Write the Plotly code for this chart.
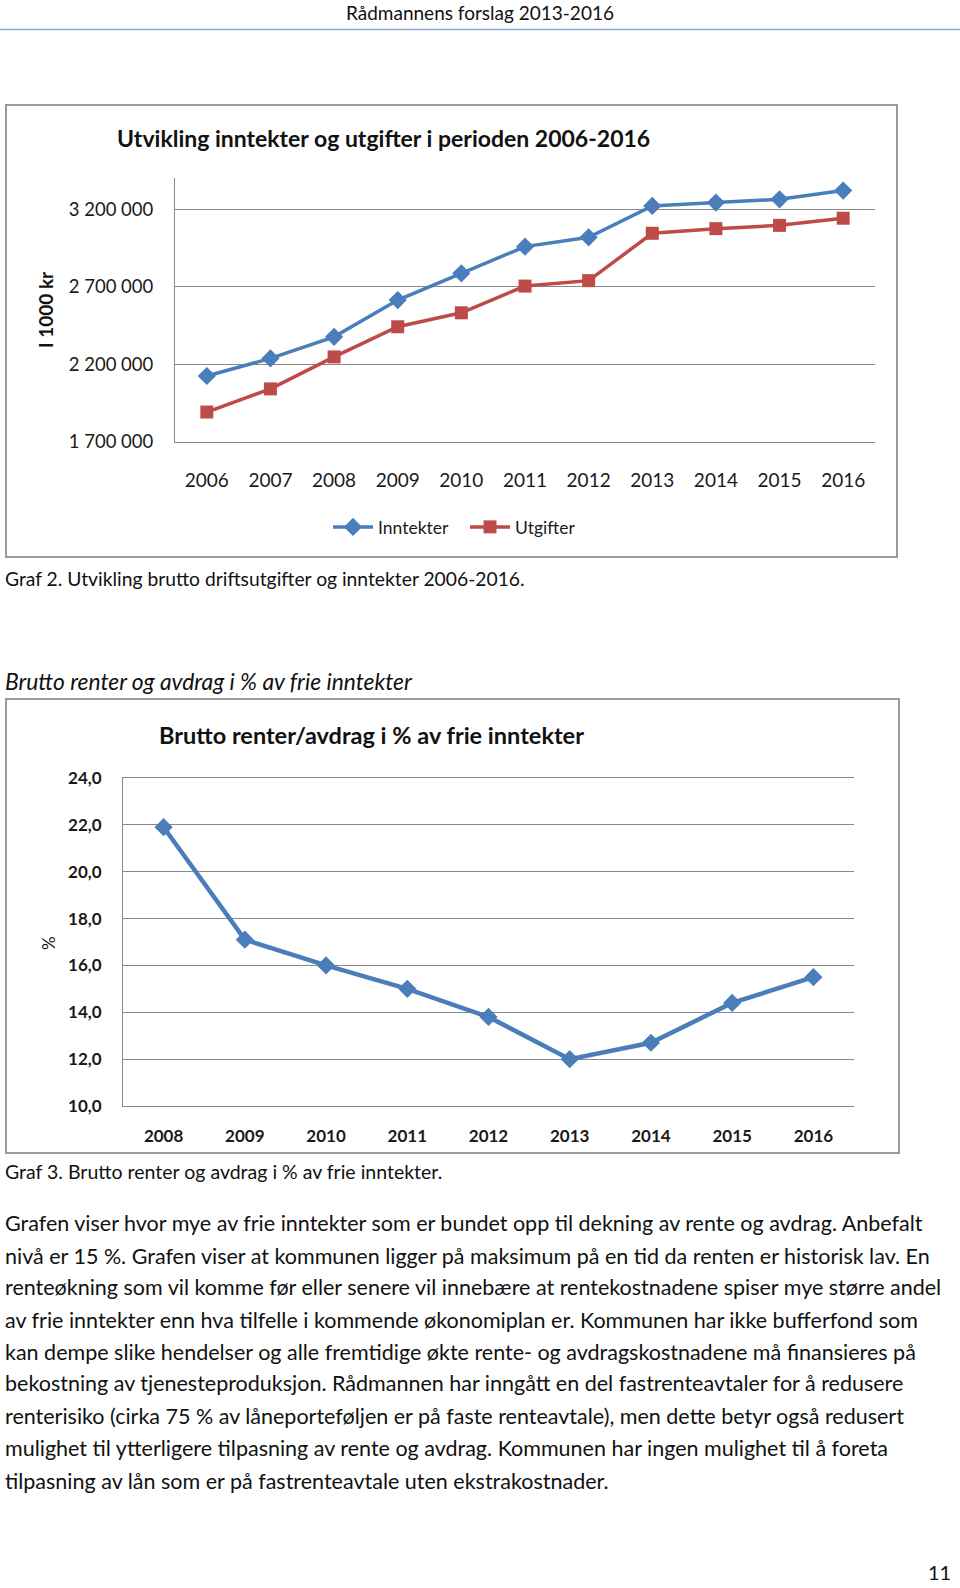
import plotly.graph_objects as go

W, H = 960, 1588

# ---------------- data ----------------
years1 = [2006, 2007, 2008, 2009, 2010, 2011, 2012, 2013, 2014, 2015, 2016]
inntekter = [2125000, 2238000, 2377000, 2614000, 2786000, 2958000, 3018000, 3220000, 3242000, 3263000, 3319000]
utgifter = [1893000, 2042000, 2248000, 2442000, 2532000, 2704000, 2739000, 3044000, 3074000, 3095000, 3141000]
y1_ticks = [1700000, 2200000, 2700000, 3200000]
y1_ticktext = ["1 700 000", "2 200 000", "2 700 000", "3 200 000"]

years2 = [2008, 2009, 2010, 2011, 2012, 2013, 2014, 2015, 2016]
renter_pct = [21.9, 17.1, 16.0, 15.0, 13.8, 12.0, 12.7, 14.4, 15.5]
y2_ticks = [10, 12, 14, 16, 18, 20, 22, 24]
y2_ticktext = ["10,0", "12,0", "14,0", "16,0", "18,0", "20,0", "22,0", "24,0"]

paragraph = [
    "Grafen viser hvor mye av frie inntekter som er bundet opp til dekning av rente og avdrag. Anbefalt",
    "nivå er 15 %. Grafen viser at kommunen ligger på maksimum på en tid da renten er historisk lav. En",
    "renteøkning som vil komme før eller senere vil innebære at rentekostnadene spiser mye større andel",
    "av frie inntekter enn hva tilfelle i kommende økonomiplan er. Kommunen har ikke bufferfond som",
    "kan dempe slike hendelser og alle fremtidige økte rente- og avdragskostnadene må finansieres på",
    "bekostning av tjenesteproduksjon. Rådmannen har inngått en del fastrenteavtaler for å redusere",
    "renterisiko (cirka 75 % av låneporteføljen er på faste renteavtale), men dette betyr også redusert",
    "mulighet til ytterligere tilpasning av rente og avdrag. Kommunen har ingen mulighet til å foreta",
    "tilpasning av lån som er på fastrenteavtale uten ekstrakostnader.",
]

FONT = "Lato, 'Open Sans', sans-serif"
BLUE = "#4a7ebb"
RED = "#be4b48"
GRID = "#8a8a8a"


def px(x):
    return x / W


def py(y):
    return 1 - y / H


fig = go.Figure()

fig.add_trace(go.Scatter(
    x=years1, y=inntekter, name="Inntekter", mode="lines+markers",
    line=dict(color=BLUE, width=3.5),
    marker=dict(symbol="diamond", size=14, color=BLUE),
    xaxis="x", yaxis="y", legend="legend",
))
fig.add_trace(go.Scatter(
    x=years1, y=utgifter, name="Utgifter", mode="lines+markers",
    line=dict(color=RED, width=3.5),
    marker=dict(symbol="square", size=13, color=RED),
    xaxis="x", yaxis="y", legend="legend2",
))
fig.add_trace(go.Scatter(
    x=years2, y=renter_pct, name="%", mode="lines+markers", showlegend=False,
    line=dict(color=BLUE, width=4.5),
    marker=dict(symbol="diamond", size=14, color=BLUE),
    xaxis="x2", yaxis="y2",
))

tickfont1 = dict(family=FONT, size=19, color="#1a1a1a")
tickfont1y = dict(family=FONT, size=18.5, color="#1a1a1a")
tickfont2 = dict(family=FONT, size=17, color="#1a1a1a", weight="bold")
legfont = dict(family=FONT, size=17.5, color="#1a1a1a")

fig.update_layout(
    width=W, height=H,
    margin=dict(l=0, r=0, t=0, b=0, autoexpand=False),
    paper_bgcolor="white", plot_bgcolor="white",
    showlegend=True,
    legend=dict(
        orientation="h", x=px(328), y=py(527), xanchor="left", yanchor="middle",
        font=legfont, bgcolor="rgba(0,0,0,0)", itemwidth=40,
    ),
    legend2=dict(
        orientation="h", x=px(465), y=py(527), xanchor="left", yanchor="middle",
        font=legfont, bgcolor="rgba(0,0,0,0)", itemwidth=40,
    ),
    xaxis=dict(
        domain=[px(175), px(875)], anchor="y", automargin=False,
        range=[2005.5, 2016.5], tickvals=years1, ticktext=[str(v) for v in years1],
        showgrid=False, zeroline=False,
        showline=True, linecolor=GRID, linewidth=1,
        ticks="outside", ticklen=21, tickcolor="rgba(0,0,0,0)",
        tickfont=tickfont1,
    ),
    yaxis=dict(
        domain=[py(442), py(178)], anchor="x", automargin=False,
        range=[1700000, 3400000], tickvals=y1_ticks, ticktext=y1_ticktext,
        showgrid=True, gridcolor=GRID, gridwidth=1, zeroline=False,
        showline=True, linecolor=GRID, linewidth=1,
        ticks="outside", ticklen=17, tickcolor="rgba(0,0,0,0)",
        tickfont=tickfont1y,
    ),
    xaxis2=dict(
        domain=[px(123), px(854)], anchor="y2", automargin=False,
        range=[2007.5, 2016.5], tickvals=years2, ticktext=[str(v) for v in years2],
        showgrid=False, zeroline=False,
        showline=True, linecolor=GRID, linewidth=1, mirror=True,
        ticks="outside", ticklen=15, tickcolor="rgba(0,0,0,0)",
        tickfont=tickfont2,
    ),
    yaxis2=dict(
        domain=[py(1106), py(778)], anchor="x2", automargin=False,
        range=[10, 24], tickvals=y2_ticks, ticktext=y2_ticktext,
        showgrid=True, gridcolor=GRID, gridwidth=1, zeroline=False,
        showline=True, linecolor=GRID, linewidth=1,
        ticks="outside", ticklen=17, tickcolor="rgba(0,0,0,0)",
        tickfont=tickfont2,
    ),
)

shapes = [
    # header rule
    dict(type="line", xref="paper", yref="paper", x0=0, x1=1, y0=py(29.5), y1=py(29.5),
         line=dict(color="#8eaad0", width=1.5)),
    # chart frames
    dict(type="rect", xref="paper", yref="paper", x0=px(6), x1=px(897), y0=py(105), y1=py(557),
         line=dict(color="#9a9a9a", width=2), fillcolor="rgba(0,0,0,0)", layer="below"),
    dict(type="rect", xref="paper", yref="paper", x0=px(6), x1=px(899), y0=py(699), y1=py(1153),
         line=dict(color="#9a9a9a", width=2), fillcolor="rgba(0,0,0,0)", layer="below"),
]

ann = []


def text(x, y, s, size, xanchor="left", bold=False, italic=False, angle=0, color="#111111"):
    if bold:
        s = "<b>" + s + "</b>"
    if italic:
        s = "<i>" + s + "</i>"
    ann.append(dict(
        xref="paper", yref="paper", x=px(x), y=py(y), text=s, showarrow=False,
        xanchor=xanchor, yanchor="middle", textangle=angle,
        font=dict(family=FONT, size=size, color=color),
    ))


text(480, 13, "Rådmannens forslag 2013-2016", 19, xanchor="center")
text(383, 138, "Utvikling inntekter og utgifter i perioden 2006-2016", 23, xanchor="center", bold=True)
text(45, 310, "I 1000 kr", 19, xanchor="center", bold=True, angle=-90)
text(3, 579, "Graf 2. Utvikling brutto driftsutgifter og inntekter 2006-2016.", 19.3)
text(3, 681, "Brutto renter og avdrag i % av frie inntekter", 22.8, italic=True)
text(371, 735, "Brutto renter/avdrag i % av frie inntekter", 23.5, xanchor="center", bold=True)
text(48, 943, "%", 17, xanchor="center", angle=-90)
text(3, 1171, "Graf 3. Brutto renter og avdrag i % av frie inntekter.", 19.5)

line_y = [1223, 1256, 1287, 1320, 1352, 1383, 1416, 1448, 1481]
for yy, s in zip(line_y, paragraph):
    text(3, yy, s, 21.5)

text(953, 1572, "11", 20, xanchor="right")

fig.update_layout(shapes=shapes, annotations=ann)

fig.write_html(
    "out.html",
    config={"displayModeBar": False},
    post_script="document.body.style.margin='0';document.body.style.padding='0';"
                "document.documentElement.style.overflow='hidden';",
)
